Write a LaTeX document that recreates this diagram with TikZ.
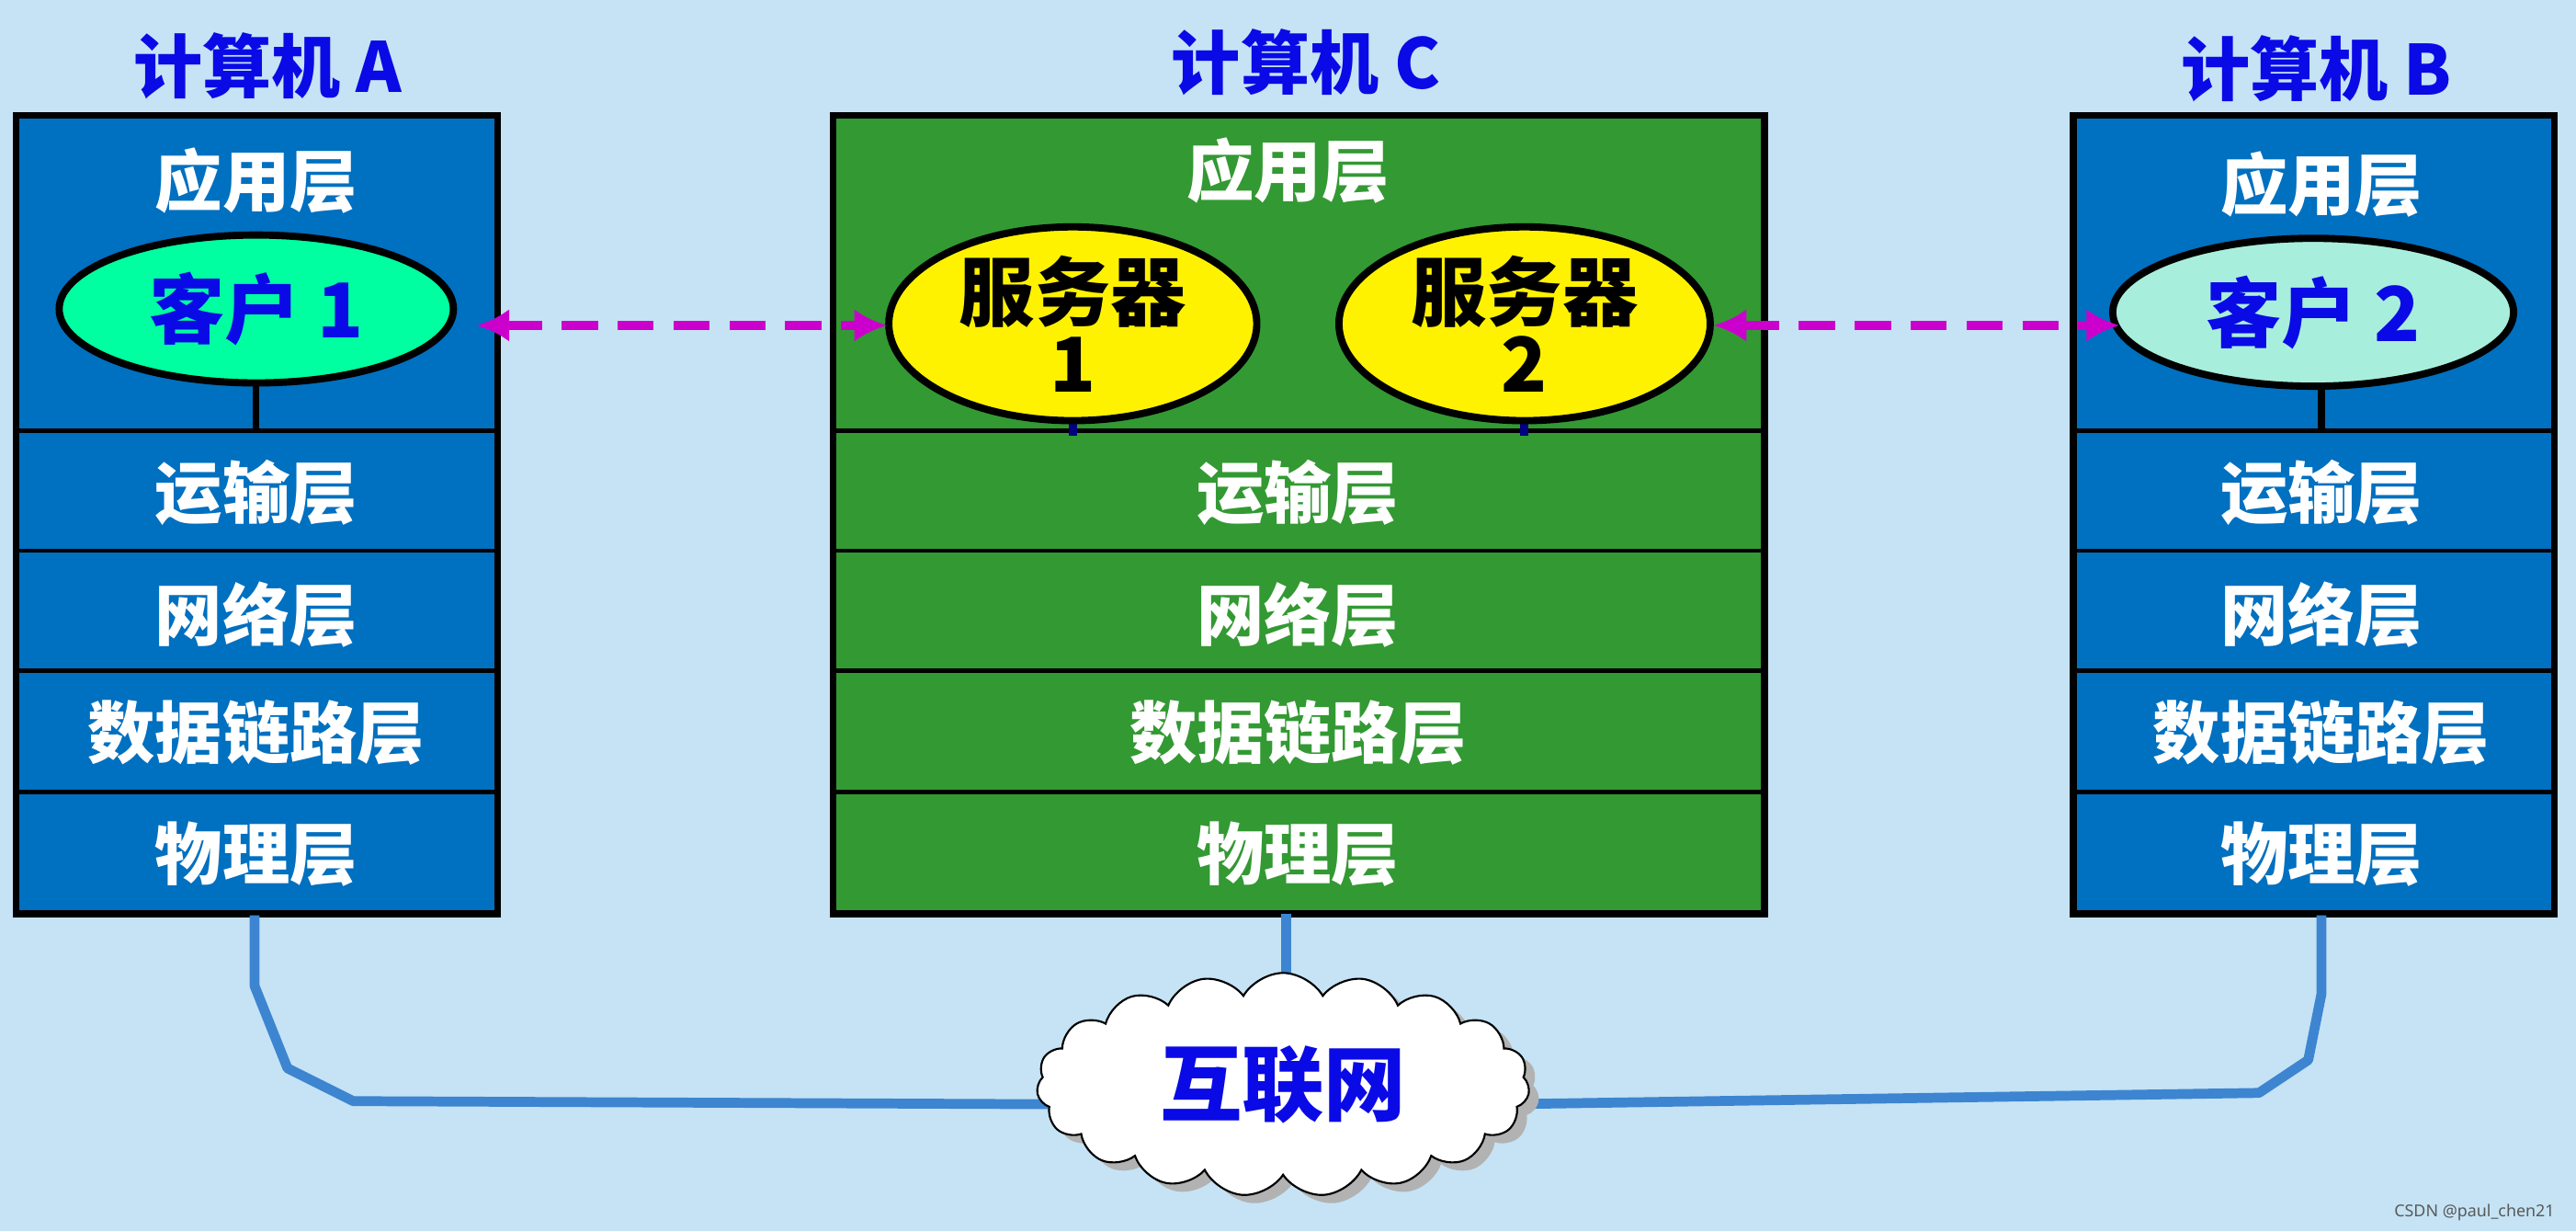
\documentclass[tikz,border=0pt]{standalone}
\usepackage{fontspec}
\setmainfont{Noto Sans}
\newfontfamily\cjk{Noto Sans CJK SC}
\usetikzlibrary{shapes.symbols,shapes.geometric,arrows.meta}
\definecolor{bg}{HTML}{C5E3F5}
\definecolor{bluebox}{HTML}{0070C0}
\definecolor{greenbox}{HTML}{339933}
\definecolor{ttl}{HTML}{0A0AE6}
\definecolor{mag}{HTML}{CC00CC}
\definecolor{wire}{HTML}{3D85D0}
\definecolor{mint}{HTML}{00FFA0}
\definecolor{mint2}{HTML}{A8EEDC}
\begin{document}
\begin{tikzpicture}[x=0.5pt,y=-0.5pt,
  box/.style={draw=black,line width=2pt},
  lay/.style={text=white,font=\cjk\bfseries\fontsize{20.5}{22}\selectfont},
  ttlx/.style={text=ttl,font=\cjk\bfseries\fontsize{21}{22}\selectfont},
  ell/.style={draw=black,line width=2.2pt,ellipse,inner sep=0pt},
  arr/.style={mag,line width=3pt,dash pattern=on 11pt off 6pt,{Latex[length=10pt,width=10pt]}-{Latex[length=10pt,width=10pt]}},
  wirex/.style={wire,line width=3pt,line join=round}]
\useasboundingbox (0,0) rectangle (1568,749);
\fill[bg] (0,0) rectangle (1568,749);
% titles
\node[ttlx] (tA) at (163,40) {计算机 A};
\node[ttlx] (tC) at (795,38) {计算机 C};
\node[ttlx] (tB) at (1410,42) {计算机 B};
% boxes
\foreach \xa/\xb/\c/\n in {10/303/bluebox/A,507/1074/greenbox/C,1262/1555/bluebox/B}{
  \fill[\c] (\xa,70) rectangle (\xb,556);
  \foreach \yy in {262,335,408,482} \draw[line width=1.3pt] (\xa,\yy) -- (\xb,\yy);
  \draw[box] (\xa,70) rectangle (\xb,556);
}
\foreach \cx/\n in {156/A,790/C,1413/B}{
  \node[lay] (tr\n) at (\cx,300) {运输层};
  \node[lay] (net\n) at (\cx,374) {网络层};
  \node[lay] (dl\n) at (\cx,446) {数据链路层};
  \node[lay] (ph\n) at (\cx,520) {物理层};
}
\node[lay] (appA) at (156,110) {应用层};
\node[lay] (appC) at (784,104) {应用层};
\node[lay] (appB) at (1413,112) {应用层};
% clients & servers
\draw[line width=2pt] (156,225) -- (156,262);
\draw[line width=2pt] (1413,225) -- (1413,262);
\draw[line width=2.5pt,blue!50!black] (653,240) -- (653,265);
\draw[line width=2.5pt,blue!50!black] (928,240) -- (928,265);
\node[ell,fill=mint,minimum width=120pt,minimum height=45pt,text=ttl,font=\cjk\bfseries\fontsize{23}{23}\selectfont] (c1) at (156,188) {客户 1};
\node[ell,fill=mint2,minimum width=122pt,minimum height=45pt,text=ttl,font=\cjk\bfseries\fontsize{23}{23}\selectfont] (c2) at (1408,190) {客户 2};
\node[ell,fill=yellow,minimum width=112pt,minimum height=56pt,align=center,font=\cjk\bfseries\fontsize{23}{22}\selectfont] (s1) at (653,197) {服务器\\1};
\node[ell,fill=yellow,minimum width=113pt,minimum height=56pt,align=center,font=\cjk\bfseries\fontsize{23}{22}\selectfont] (s2) at (928,197) {服务器\\2};
\draw[arr] (290,198) -- (540,198);
\draw[arr] (1043,198) -- (1290,198);
% wires
\coordinate (wA) at (155,557);
\coordinate (wB) at (1413,557);
\coordinate (wC) at (783,556);
\draw[wirex] (wA) -- (155,600) -- (175,650) -- (215,670) -- (660,672);
\draw[wirex] (wB) -- (1413,605) -- (1405,645) -- (1375,665) -- (910,672);
\draw[wirex] (wC) -- (783,610);
% cloud
\node[cloud,cloud puffs=19,cloud puff arc=120,aspect=2.3,fill=gray!60,minimum width=150pt,minimum height=68pt] at (787,665) {};
\node[cloud,cloud puffs=19,cloud puff arc=120,aspect=2.3,draw=black,line width=0.6pt,fill=white,minimum width=150pt,minimum height=68pt,text=ttl,font=\cjk\bfseries\fontsize{25}{26}\selectfont] (net) at (781,660) {互联网};
\node[text=gray!70!black,font=\fontsize{5}{6}\selectfont,anchor=east] (wm) at (1562,738) {CSDN @paul\_chen21};
\end{tikzpicture}
\end{document}
